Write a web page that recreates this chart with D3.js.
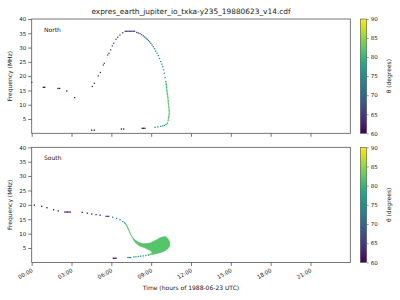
<!DOCTYPE html>
<html>
<head>
<meta charset="utf-8">
<script src="https://cdn.jsdelivr.net/npm/d3@7"></script>
<style>
  body { margin: 0; background: #fff; }
  text { font-family: "DejaVu Sans", sans-serif; fill: #222; }
</style>
</head>
<body>
<svg id="chart" width="400" height="300"></svg>
<script>
const TITLE = "expres_earth_jupiter_io_txka-y235_19880623_v14.cdf";
const hourTicks = [0, 3, 6, 9, 12, 15, 18, 21];
const freqTicks = [5, 10, 15, 20, 25, 30, 35, 40];
const thetaTicks = [60, 65, 70, 75, 80, 85, 90];

// North hemisphere: time (h), frequency (MHz), theta (deg)
const northTime = [0.0, 0.88, 0.98, 1.98, 2.1, 2.64, 3.24, 4.52, 4.72,
    4.57, 4.72, 5.02, 5.17, 5.40, 5.47, 5.73, 5.82, 5.95, 6.07, 6.18, 6.35, 6.48, 6.65, 6.86,
    7.05, 7.15, 7.25, 7.35, 7.45, 7.55, 7.65, 7.75,
    7.91, 8.03, 8.16, 8.28, 8.41, 8.51, 8.61, 8.70, 8.79, 8.88, 8.97, 9.06, 9.16,
    9.25, 9.34, 9.44, 9.54, 9.63, 9.72, 9.80, 9.87, 9.93, 9.99, 10.05, 10.10,
    10.12, 10.14, 10.15, 10.16, 10.17, 10.18, 10.20, 10.21, 10.23, 10.24, 10.26, 10.27, 10.28, 10.29,
    10.29, 10.31, 10.32, 10.33, 10.35, 10.36, 10.36, 10.36, 10.35, 10.33, 10.31, 10.30, 10.28,
    10.22, 10.12, 10.0, 9.87, 9.72, 9.5, 9.29,
    8.33, 8.43, 8.53, 6.76, 6.93];
const northFreq = [17.8, 16.1, 16.1, 15.7, 15.7, 14.8, 12.5, 1.1, 1.1,
    16.4, 17.5, 20.1, 21.3, 23.9, 24.5, 27.4, 28.0, 29.2, 30.6, 31.5, 32.9, 33.6, 34.4, 35.2,
    35.7, 35.7, 35.7, 35.7, 35.7, 35.7, 35.7, 35.7,
    35.3, 35.1, 34.9, 34.5, 34.1, 33.7, 33.3, 32.9, 32.5, 32.0, 31.5, 30.9, 30.3,
    29.6, 28.8, 28.0, 27.2, 26.2, 25.1, 24.2, 23.3, 22.2, 21.0, 19.5, 18.1,
    17.5, 17.0, 16.5, 16.0, 15.5, 15.0, 14.5, 14.0, 13.5, 13.0, 12.5, 12.0, 11.5, 11.0,
    10.5, 10.0, 9.5, 9.0, 8.5, 8.0, 7.5, 7.0, 6.5, 6.0, 5.5, 5.0, 4.5,
    3.6, 3.1, 2.8, 2.6, 2.4, 2.25, 2.1,
    1.75, 1.75, 1.75, 1.5, 1.5];
const northTheta = [60, 60, 60, 60, 60, 61, 61, 61, 61,
    64, 65, 66, 66, 67, 67, 67, 67, 67, 67, 66, 66, 66, 66, 65,
    65, 65, 65, 65, 65, 65, 65, 65,
    66, 67, 68, 69, 69, 70, 70, 71, 71, 72, 72, 73, 73,
    74, 74, 75, 75, 76, 76, 77, 77, 78, 78, 79, 79,
    80, 80, 80, 80, 81, 81, 81, 81, 81, 81, 82, 82, 82, 82,
    82, 82, 82, 82, 82, 82, 82, 82, 82, 81, 81, 81, 81,
    79, 78, 77, 76, 75, 74, 73,
    61, 61, 61, 60, 60];

// South hemisphere: isolated cells
const southTime = [0.2, 0.75, 1.15, 1.65, 2.0, 2.5, 2.6, 2.7, 2.8, 2.9, 3.81, 4.19, 4.52, 4.85, 5.15,
    5.6, 5.7, 5.8, 6.1, 6.4, 6.65, 6.86, 7.0,
    6.15, 6.25, 6.35, 7.25, 7.35, 7.45, 7.7, 7.85, 8.03, 8.2, 8.4, 8.6, 8.8];
const southFreq = [19.9, 19.5, 19.0, 18.3, 17.9, 17.5, 17.5, 17.5, 17.5, 17.5, 17.4, 17.1, 16.8, 16.6, 16.4,
    16.0, 16.0, 16.0, 15.7, 15.3, 14.8, 14.2, 13.7,
    1.45, 1.45, 1.45, 1.7, 1.7, 1.7, 1.9, 1.95, 2.05, 2.15, 2.25, 2.4, 2.5];
const southTheta = [60, 60, 60, 60, 60, 61, 61, 61, 61, 61, 62, 62, 62, 63, 63,
    67, 67, 67, 72, 73, 74, 76, 78,
    60, 60, 60, 74, 74, 74, 75, 76, 77, 77, 78, 78, 79];

// South hemisphere: outline of the dense emission region
const blobTime = [7.0, 7.16, 7.28, 7.46, 7.7, 8.03, 8.41, 8.92, 9.42, 9.67, 10.05, 10.22, 10.4, 10.4,
    10.22, 9.92, 9.54, 9.04, 8.75, 9.1, 8.9, 8.5, 8.1, 7.8, 7.6, 7.42, 7.27, 7.13];
const blobFreq = [13.9, 12.6, 11.4, 9.6, 8.1, 7.0, 6.5, 6.7, 7.9, 8.6, 9.0, 8.5, 7.2, 5.7,
    4.6, 3.7, 3.2, 2.75, 2.6, 3.3, 4.2, 5.1, 5.8, 6.9, 8.4, 10.2, 11.9, 13.2];
const blobTheta = 82;

const CELL_DT = 0.1;    // hours
const CELL_DF = 0.45;   // MHz

const svg = d3.select("#chart");
const left = 31.7, right = 350.3;
const panels = [
    {name: "North", top: 19, bottom: 133.3, time: northTime, freq: northFreq, theta: northTheta},
    {name: "South", top: 147.3, bottom: 262.4, time: southTime, freq: southFreq, theta: southTheta, blob: true}
];

const x = d3.scaleLinear().domain([0, 24]).range([left, right]);
const color = t => d3.interpolateViridis((t - 60) / 30);
const fmtHour = h => d3.format("02d")(h) + ":00";

svg.append("text")
    .attr("x", 191).attr("y", 13.5)
    .attr("text-anchor", "middle")
    .style("font-size", "7.4px")
    .text(TITLE);

// viridis gradient for the colorbars
const grad = svg.append("defs").append("linearGradient")
    .attr("id", "viridis").attr("x1", 0).attr("y1", 1).attr("x2", 0).attr("y2", 0);
d3.range(0, 1.0001, 0.05).forEach(s => {
    grad.append("stop").attr("offset", s).attr("stop-color", d3.interpolateViridis(s));
});

panels.forEach((p, pi) => {
    const y = d3.scaleLinear().domain([0, 40]).range([p.bottom, p.top]);
    const g = svg.append("g");

    if (p.blob) {
        const pts = blobTime.map((t, i) => [x(t), y(blobFreq[i])]);
        g.append("path")
            .attr("d", d3.line().curve(d3.curveLinearClosed)(pts))
            .attr("fill", color(blobTheta))
            .attr("stroke", color(blobTheta))
            .attr("stroke-width", 0.6);
    }

    const w = x(CELL_DT) - x(0);
    const h = y(0) - y(CELL_DF);
    g.selectAll("rect.cell")
        .data(p.time.map((t, i) => ({t: t, f: p.freq[i], th: p.theta[i]})))
        .join("rect")
        .attr("class", "cell")
        .attr("x", d => x(d.t) - w / 2)
        .attr("y", d => y(d.f) - h / 2)
        .attr("width", w)
        .attr("height", h)
        .attr("fill", d => color(d.th));

    // y axis
    const ya = g.append("g")
        .attr("transform", `translate(${left},0)`)
        .call(d3.axisLeft(y).tickValues(freqTicks).tickSize(3.5).tickPadding(2));
    ya.select(".domain").remove();
    ya.selectAll("line").attr("stroke", "#555").attr("stroke-width", 0.8);
    ya.selectAll("text").style("font-size", "5.5px").attr("fill", "#222");

    // x axis
    const xa = g.append("g")
        .attr("transform", `translate(0,${p.bottom})`)
        .call(d3.axisBottom(x).tickValues(hourTicks).tickSize(3.5).tickFormat(fmtHour));
    xa.select(".domain").remove();
    xa.selectAll("line").attr("stroke", "#555").attr("stroke-width", 0.8);
    if (pi === 0) {
        xa.selectAll("text").remove();
    } else {
        xa.selectAll("text")
            .style("font-size", "5.5px")
            .attr("text-anchor", "end")
            .attr("y", 0).attr("dy", 0)
            .attr("transform", "translate(1,9) rotate(-30)");
    }

    g.append("rect")
        .attr("x", left).attr("y", p.top)
        .attr("width", right - left).attr("height", p.bottom - p.top)
        .attr("fill", "none").attr("stroke", "#555").attr("stroke-width", 0.8);

    g.append("text")
        .attr("x", 44).attr("y", p.top + 12.5)
        .style("font-size", "6px")
        .text(p.name);

    g.append("text")
        .attr("transform", `translate(12,${(p.top + p.bottom) / 2}) rotate(-90)`)
        .attr("text-anchor", "middle")
        .style("font-size", "6px")
        .text("Frequency (MHz)");

    // colorbar
    const cy = d3.scaleLinear().domain([60, 90]).range([p.bottom, p.top]);
    g.append("rect")
        .attr("x", 360.3).attr("y", p.top)
        .attr("width", 6.4).attr("height", p.bottom - p.top)
        .attr("fill", "url(#viridis)")
        .attr("stroke", "#555").attr("stroke-width", 0.6);
    const ca = g.append("g")
        .attr("transform", "translate(366.7,0)")
        .call(d3.axisRight(cy).tickValues(thetaTicks).tickSize(2).tickPadding(2));
    ca.select(".domain").remove();
    ca.selectAll("line").attr("stroke", "#555").attr("stroke-width", 0.6);
    ca.selectAll("text").style("font-size", "5.5px").attr("fill", "#222");

    g.append("text")
        .attr("transform", `translate(390.5,${(p.top + p.bottom) / 2}) rotate(-90)`)
        .attr("text-anchor", "middle")
        .style("font-size", "6px")
        .text("θ (degrees)");
});

svg.append("text")
    .attr("x", 191).attr("y", 290)
    .attr("text-anchor", "middle")
    .style("font-size", "6px")
    .text("Time (hours of 1988-06-23 UTC)");
</script>
</body>
</html>
